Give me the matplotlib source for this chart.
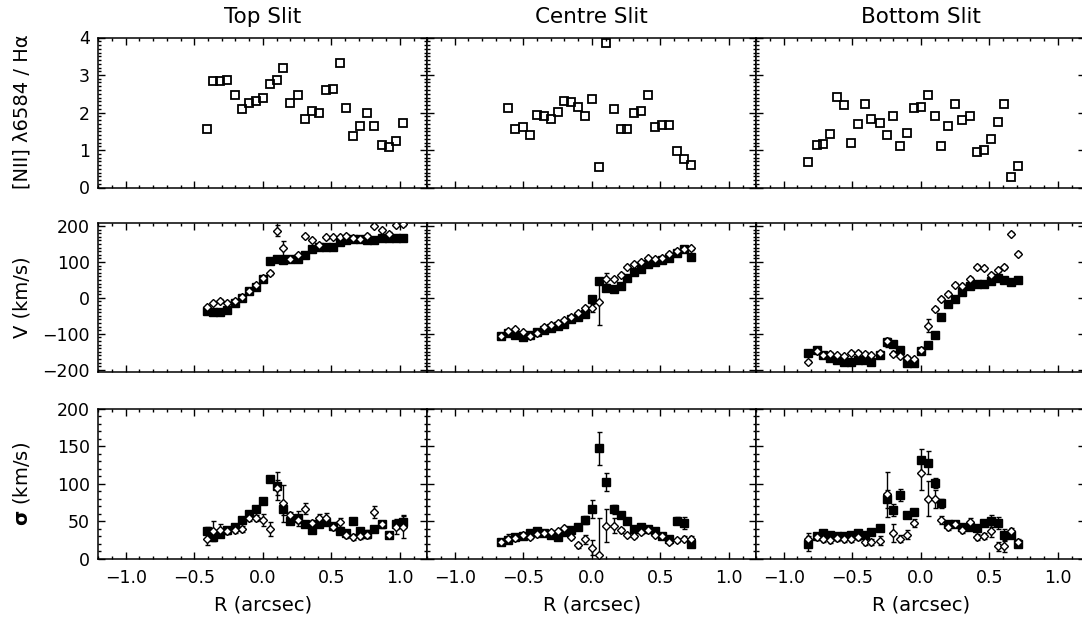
import matplotlib
matplotlib.use("Agg")
import matplotlib.pyplot as plt
from matplotlib.ticker import MultipleLocator, FuncFormatter

plt.rcParams['font.family'] = ['DejaVu Sans']

# ---------------- data ----------------
titles = ["Top Slit", "Centre Slit", "Bottom Slit"]

# ---- Top slit ----
R_top = [-0.41, -0.36, -0.31, -0.26, -0.20, -0.15, -0.10, -0.05, 0.00, 0.05,
         0.10, 0.15, 0.20, 0.26, 0.31, 0.36, 0.41, 0.46, 0.51, 0.56,
         0.61, 0.66, 0.71, 0.76, 0.81, 0.87, 0.92, 0.97, 1.02]
ratio_top = [1.56, 2.83, 2.83, 2.88, 2.47, 2.09, 2.26, 2.30, 2.39, 2.75,
             2.88, 3.20, 2.24, 2.46, 1.84, 2.03, 2.00, 2.59, 2.64, 3.31,
             2.13, 1.37, 1.63, 2.00, 1.65, 1.13, 1.08, 1.24, 1.71]
v_top_sq = [-37, -40, -40, -35, -15, 0, 18, 30, 52, 103,
            107, 105, 107, 108, 120, 135, 142, 143, 143, 155,
            162, 165, 163, 160, 162, 167, 167, 168, 168]
v_top_sq_err = [3] * 29
v_top_di = [-24, -13, -8, -14, -8, 2, 20, 35, 55, 70,
            187, 138, 108, 120, 172, 160, 146, 169, 169, 170,
            173, 168, 165, 173, 200, 188, 178, 204, 206]
v_top_di_err = [4, 5, 4, 4, 4, 4, 4, 4, 4, 6,
                15, 20, 5, 6, 4, 4, 4, 4, 4, 4,
                4, 4, 4, 4, 4, 4, 4, 5, 5]
s_top_sq = [37, 29, 33, 38, 43, 52, 60, 66, 77, 106,
            97, 66, 51, 54, 46, 39, 46, 49, 44, 37,
            34, 50, 37, 33, 40, 46, 32, 46, 49]
s_top_sq_err = [5, 4, 4, 4, 4, 4, 4, 4, 4, 4,
                19, 8, 5, 10, 4, 4, 4, 4, 4, 4,
                4, 4, 4, 5, 4, 5, 4, 6, 8]
s_top_di = [26, 37, 39, 37, 39, 40, 54, 54, 52, 40,
            95, 74, 58, 52, 67, 48, 54, 55, 43, 49,
            32, 29, 30, 32, 62, 46, 32, 43, 43]
s_top_di_err = [8, 13, 8, 4, 4, 4, 4, 4, 8, 9,
                10, 25, 4, 4, 7, 4, 6, 6, 4, 6,
                4, 4, 4, 4, 8, 4, 4, 10, 15]

# ---- Centre slit ----
R_cen_ratio = [-0.61, -0.56, -0.50, -0.45, -0.40, -0.35, -0.30, -0.25, -0.20,
               -0.15, -0.10, -0.05, 0.00, 0.05, 0.10, 0.16, 0.21, 0.26, 0.31,
               0.36, 0.41, 0.46, 0.51, 0.56, 0.62, 0.67, 0.72]
ratio_cen = [2.13, 1.55, 1.62, 1.40, 1.94, 1.92, 1.84, 2.01, 2.31,
             2.27, 2.16, 1.92, 2.37, 0.56, 3.86, 2.09, 1.55, 1.57, 2.00,
             2.04, 2.46, 1.61, 1.68, 1.67, 0.97, 0.75, 0.60]
R_cen = [-0.66, -0.61, -0.56, -0.50, -0.45, -0.40, -0.35, -0.30, -0.25, -0.20,
         -0.15, -0.10, -0.05, 0.00, 0.05, 0.10, 0.16, 0.21, 0.26, 0.31,
         0.36, 0.41, 0.46, 0.51, 0.56, 0.62, 0.67, 0.72]
v_cen_sq = [-107, -98, -102, -110, -102, -96, -90, -84, -79, -72,
            -60, -53, -45, -3, 48, 28, 25, 34, 56, 72,
            81, 95, 100, 105, 110, 126, 137, 113]
v_cen_sq_err = [3] * 28
v_cen_di = [-105, -93, -87, -96, -107, -98, -80, -75, -70, -62,
            -52, -42, -28, -28, -12, 53, 53, 65, 87, 95,
            100, 110, 109, 112, 123, 130, 137, 138]
v_cen_di_err = [4, 4, 4, 4, 4, 4, 4, 4, 4, 4,
                4, 4, 5, 12, 64, 15, 5, 5, 4, 4,
                4, 4, 4, 4, 4, 4, 4, 4]
s_cen_sq = [22, 25, 29, 31, 34, 37, 35, 32, 29, 36,
            39, 42, 52, 66, 147, 102, 66, 58, 51, 40,
            43, 40, 37, 30, 26, 51, 48, 20]
s_cen_sq_err = [4, 4, 3, 3, 3, 3, 3, 3, 3, 3,
                3, 3, 5, 12, 22, 12, 6, 4, 3, 3,
                3, 3, 3, 3, 3, 5, 8, 3]
s_cen_di = [23, 27, 28, 32, 29, 33, 34, 36, 37, 41,
            29, 18, 26, 15, 5, 44, 44, 38, 32, 31,
            36, 39, 32, 30, 23, 25, 27, 27]
s_cen_di_err = [3, 6, 3, 3, 3, 4, 3, 3, 3, 3,
                3, 3, 6, 10, 50, 22, 10, 3, 3, 3,
                3, 3, 3, 3, 3, 3, 3, 3]

# ---- Bottom slit ----
R_bot = [-0.82, -0.76, -0.71, -0.66, -0.61, -0.56, -0.51, -0.46, -0.41, -0.36,
         -0.30, -0.25, -0.20, -0.15, -0.10, -0.05, 0.00, 0.05, 0.10, 0.15,
         0.20, 0.25, 0.30, 0.36, 0.41, 0.46, 0.51, 0.56, 0.61, 0.66, 0.71]
ratio_bot = [0.69, 1.13, 1.16, 1.44, 2.42, 2.19, 1.20, 1.70, 2.22, 1.84,
             1.73, 1.39, 1.90, 1.11, 1.45, 2.11, 2.16, 2.47, 1.91, 1.12,
             1.63, 2.23, 1.79, 1.92, 0.94, 0.99, 1.29, 1.76, 2.23, 0.27, 0.57]
v_bot_sq = [-152, -144, -160, -167, -174, -177, -177, -174, -172, -177,
            -158, -124, -127, -146, -180, -181, -149, -130, -102, -54,
            -16, -2, 16, 33, 39, 40, 47, 56, 51, 44, 51]
v_bot_sq_err = [3, 3, 3, 3, 3, 3, 3, 3, 3, 3,
                3, 12, 4, 4, 3, 3, 6, 5, 3, 3,
                3, 3, 3, 3, 3, 3, 3, 3, 3, 3, 3]
v_bot_di = [-177, -149, -158, -155, -160, -163, -152, -153, -155, -160,
            -153, -119, -155, -163, -167, -170, -144, -77, -31, -3,
            11, 37, 34, 53, 86, 82, 65, 77, 86, 179, 123]
v_bot_di_err = [5, 4, 4, 4, 4, 4, 4, 4, 4, 4,
                4, 8, 8, 4, 4, 4, 6, 18, 6, 5,
                5, 5, 4, 5, 5, 4, 4, 4, 5, 4, 4]
s_bot_sq = [20, 30, 34, 32, 30, 30, 32, 34, 32, 36,
            41, 80, 65, 85, 59, 62, 131, 128, 101, 74,
            46, 46, 42, 42, 41, 48, 50, 48, 32, 32, 20]
s_bot_sq_err = [10, 4, 4, 4, 4, 4, 4, 4, 4, 4,
                4, 12, 8, 8, 4, 4, 15, 15, 6, 6,
                4, 4, 4, 4, 4, 4, 8, 8, 8, 4, 4]
s_bot_di = [27, 29, 27, 25, 28, 27, 26, 29, 22, 23,
            24, 86, 34, 27, 32, 48, 114, 80, 80, 52,
            43, 46, 39, 49, 29, 31, 37, 17, 17, 37, 23]
s_bot_di_err = [7, 4, 4, 4, 4, 4, 4, 4, 4, 4,
                6, 30, 12, 5, 6, 5, 22, 23, 12, 5,
                4, 4, 4, 6, 4, 4, 8, 6, 8, 4, 4]

columns = [
    dict(R_ratio=R_top, ratio=ratio_top, R=R_top,
         v_sq=v_top_sq, v_sq_err=v_top_sq_err, v_di=v_top_di, v_di_err=v_top_di_err,
         s_sq=s_top_sq, s_sq_err=s_top_sq_err, s_di=s_top_di, s_di_err=s_top_di_err),
    dict(R_ratio=R_cen_ratio, ratio=ratio_cen, R=R_cen,
         v_sq=v_cen_sq, v_sq_err=v_cen_sq_err, v_di=v_cen_di, v_di_err=v_cen_di_err,
         s_sq=s_cen_sq, s_sq_err=s_cen_sq_err, s_di=s_cen_di, s_di_err=s_cen_di_err),
    dict(R_ratio=R_bot, ratio=ratio_bot, R=R_bot,
         v_sq=v_bot_sq, v_sq_err=v_bot_sq_err, v_di=v_bot_di, v_di_err=v_bot_di_err,
         s_sq=s_bot_sq, s_sq_err=s_bot_sq_err, s_di=s_bot_di, s_di_err=s_bot_di_err),
]

# ---------------- layout ----------------
W, H = 1082, 618
fig = plt.figure(figsize=(W / 100, H / 100), dpi=100)

col_left = [98.3, 427.3, 756.3]
col_w = 329.0
rows_px = [(37.5, 187.5), (223.5, 372.3), (408.5, 559.0)]
ylims = [(0, 4), (-207, 207), (0, 200)]
ymaj = [1, 100, 50]
ymin = [0.1, 10, 10]

FS = 12.5
LFS = 14

def minus(s):
    return s.replace('-', '\u2212')

axes = [[None] * 3 for _ in range(3)]
for r in range(3):
    for c in range(3):
        top, bot = rows_px[r]
        ax = fig.add_axes([col_left[c] / W, 1 - bot / H, col_w / W, (bot - top) / H])
        axes[r][c] = ax
        ax.set_xlim(-1.2, 1.2)
        ax.set_ylim(*ylims[r])
        ax.xaxis.set_major_locator(MultipleLocator(0.5))
        ax.xaxis.set_minor_locator(MultipleLocator(0.1))
        ax.yaxis.set_major_locator(MultipleLocator(ymaj[r]))
        ax.yaxis.set_minor_locator(MultipleLocator(ymin[r]))
        ax.tick_params(which='both', direction='in', top=True, right=True,
                       width=1.0, labelsize=FS, color='black')
        ax.tick_params(which='major', length=5)
        ax.tick_params(which='minor', length=2.5)
        ax.tick_params(axis='x', which='major', pad=7)
        ax.tick_params(axis='y', which='major', pad=6)
        for sp in ax.spines.values():
            sp.set_linewidth(1.1)
        if c > 0:
            ax.tick_params(labelleft=False)
        if r < 2:
            ax.tick_params(labelbottom=False)
        ax.xaxis.set_major_formatter(FuncFormatter(lambda v, p: minus(f"{v:.1f}")))
        ax.yaxis.set_major_formatter(FuncFormatter(lambda v, p: minus(f"{v:.0f}")))

for c, d in enumerate(columns):
    # ratio
    ax = axes[0][c]
    ax.plot(d['R_ratio'], d['ratio'], linestyle='none', marker='s', ms=5.7,
            mfc='none', mec='black', mew=1.3, clip_on=True)
    # velocity
    ax = axes[1][c]
    ax.errorbar(d['R'], d['v_sq'], yerr=d['v_sq_err'], fmt='s', ms=5.5,
                mfc='black', mec='black', ecolor='black', elinewidth=1.0,
                capsize=1.8, capthick=1.0, zorder=3)
    ax.errorbar(d['R'], d['v_di'], yerr=d['v_di_err'], fmt='D', ms=4.5,
                mfc='white', mec='black', mew=1.0, ecolor='black', elinewidth=1.0,
                capsize=1.8, capthick=1.0, zorder=4)
    # dispersion
    ax = axes[2][c]
    ax.errorbar(d['R'], d['s_sq'], yerr=d['s_sq_err'], fmt='s', ms=5.5,
                mfc='black', mec='black', ecolor='black', elinewidth=1.0,
                capsize=1.8, capthick=1.0, zorder=3)
    ax.errorbar(d['R'], d['s_di'], yerr=d['s_di_err'], fmt='D', ms=4.5,
                mfc='white', mec='black', mew=1.0, ecolor='black', elinewidth=1.0,
                capsize=1.8, capthick=1.0, zorder=4)

    # titles and x labels
    cx = (col_left[c] + col_w / 2) / W
    fig.text(cx, 1 - 17 / H, titles[c], ha='center', va='center', fontsize=15.5)
    fig.text(cx, 1 - 605 / H, "R (arcsec)", ha='center', va='center', fontsize=LFS)

fig.text(22 / W, 1 - 112 / H, "[NII] \u03bb6584 / H\u03b1", rotation=90,
         ha='center', va='center', fontsize=LFS)
fig.text(22 / W, 1 - 297 / H, "V (km/s)", rotation=90,
         ha='center', va='center', fontsize=LFS)
fig.text(22 / W, 1 - 484 / H, r"$\mathbf{\sigma}$ (km/s)", rotation=90,
         ha='center', va='center', fontsize=LFS)

fig.savefig("out.png", dpi=100)
